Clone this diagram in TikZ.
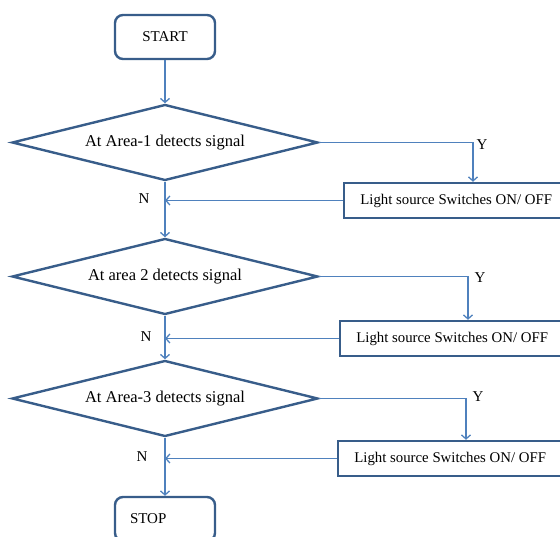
\documentclass[tikz,border=0pt]{standalone}
\usepackage{fontspec}
\setmainfont{Liberation Serif}
\usetikzlibrary{shapes.geometric,arrows.meta}
\definecolor{boxblue}{HTML}{385D8A}
\definecolor{flowblue}{HTML}{4F81BD}

\begin{document}
\begin{tikzpicture}[x=1pt, y=-1pt,
    every node/.style={font=\fontsize{15}{18}\selectfont},
    terminal/.style={draw=boxblue, line width=2.4pt, rectangle, rounded corners=8pt, minimum width=100pt, minimum height=44pt, fill=white},
    decision/.style={draw=boxblue, line width=2.4pt, diamond, aspect=4, inner sep=0pt, minimum width=306pt, minimum height=76pt, font=\fontsize{16.5}{19}\selectfont},
    action/.style={draw=boxblue, line width=2.4pt, rectangle, anchor=west, minimum width=224pt, minimum height=35pt, font=\fontsize{14.8}{17}\selectfont},
    flow/.style={draw=flowblue, line width=1.3pt, -{Straight Barb[length=4pt,width=9pt]}}]
    \useasboundingbox (0,0) rectangle (560,537);
    \clip (0,0) rectangle (560,537);
    % main column
    \node[terminal] (start) at (165,37) {START};
    \node[decision] (area1) at (165,142.5) {At Area-1 detects signal};
    \node[decision] (area2) at (165,276.5) {At area 2 detects signal};
    \node[decision] (area3) at (165,398.5) {At Area-3 detects signal};
    \node[terminal, align=left, text width=70pt, inner xsep=15pt] (stop) at (165,519) {STOP};
    % switching boxes
    \node[action] (light1) at (343,200.5) {Light source Switches ON/ OFF};
    \node[action] (light2) at (339,338.5) {Light source Switches ON/ OFF};
    \node[action] (light3) at (337,458.5) {Light source Switches ON/ OFF};
    \coordinate (yes1) at (473,142.5);
    \coordinate (yes2) at (468,276.5);
    \coordinate (yes3) at (466,398.5);
    % labels
    \node (ylab1) at (482,145) {Y};
    \node (ylab2) at (480,278) {Y};
    \node (ylab3) at (478,397) {Y};
    \node (nlab1) at (144,199) {N};
    \node (nlab2) at (146,337) {N};
    \node (nlab3) at (142,457) {N};
    % connectors
    \draw[flow] (start) -- (area1);
    \draw[flow] (area1.south) -- (area2.north);
    \draw[flow] (area2.south) -- (area3.north);
    \draw[flow] (area3.south) -- (stop.north);
    \draw[flow] (area1.east) -- (yes1) -- (yes1 |- light1.north);
    \draw[flow] (area2.east) -- (yes2) -- (yes2 |- light2.north);
    \draw[flow] (area3.east) -- (yes3) -- (yes3 |- light3.north);
    \draw[flow] (light1.west) -- (light1.west -| area1.south);
    \draw[flow] (light2.west) -- (light2.west -| area2.south);
    \draw[flow] (light3.west) -- (light3.west -| area3.south);
\end{tikzpicture}
\end{document}
